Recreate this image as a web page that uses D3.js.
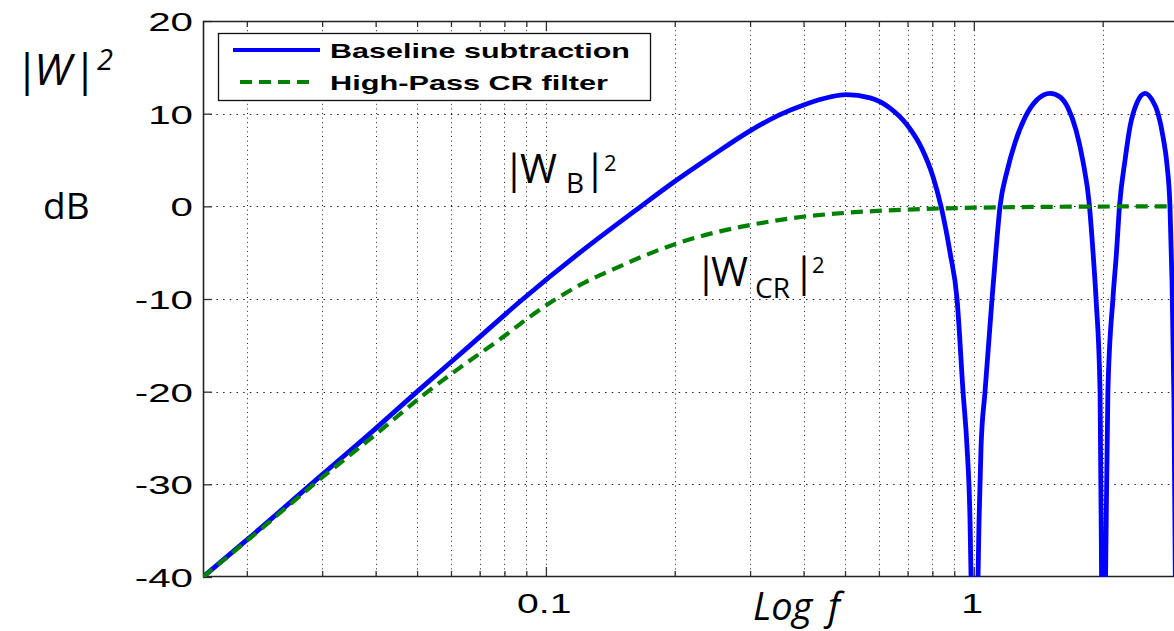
<!DOCTYPE html>
<html>
<head>
<meta charset="utf-8">
<script src="https://cdn.jsdelivr.net/npm/d3@7"></script>
<style>
  html, body { margin: 0; padding: 0; background: #fff; }
  svg { display: block; }
</style>
</head>
<body>
<svg id="chart" width="1174" height="631"></svg>
<script>
// Frequency response of baseline subtraction vs. a high-pass CR filter (dB, log frequency)
const blueFreq = [0.0158, 0.0200, 0.0301, 0.0395, 0.0500, 0.0665, 0.0884, 0.1200, 0.1668, 0.2002,
  0.2416, 0.3013, 0.3524, 0.4031, 0.4611, 0.5027, 0.5720, 0.6369, 0.6979, 0.7566,
  0.8028, 0.8382, 0.8799, 0.9136, 0.9436, 0.9641, 0.9798, 0.9851, 1.0, 1.0229,
  1.0284, 1.0395, 1.0621, 1.1028, 1.1269, 1.1514, 1.1958, 1.2487, 1.3175, 1.4051,
  1.5071, 1.5906, 1.6606, 1.7337, 1.7999, 1.8588, 1.8995, 1.9304, 1.9723, 1.9883,
  2.0, 2.0318, 2.0573, 2.1135, 2.1545, 2.1897, 2.2562, 2.3174, 2.4067, 2.5125,
  2.6090, 2.6949, 2.7680, 2.8272, 2.8732, 2.9045, 2.9354, 2.98];
const blueDb = [-40, -36.0, -28.9, -24.2, -20, -15.0, -10, -5.0, 0, 2.7,
  5.3, 8.2, 9.9, 11.0, 11.8, 12.05, 11.7, 10.6, 8.8, 6.2,
  3.2, 0, -5, -10, -20, -26, -34, -40, -60, -40,
  -34, -26, -20, -10, -4.7, 0, 3.8, 6.9, 9.6, 11.5,
  12.2, 11.8, 10.6, 8.2, 4.8, 0.5, -5, -10, -20, -40,
  -60, -40, -20, -10, -5, 0, 5, 8.6, 11.2, 12.2,
  11.5, 10, 7.5, 4.5, 0, -8, -21, -60];

const greenFreq = [0.0158, 0.0200, 0.0301, 0.0403, 0.0516, 0.0630, 0.0794, 0.0918, 0.1056, 0.1234,
  0.1435, 0.1704, 0.2025, 0.2551, 0.3013, 0.4031, 0.5027, 0.6979, 1.0, 1.507, 3.0];
const greenDb = [-40, -36.1, -29.2, -24.5, -20.4, -17.4, -14.1, -11.9, -10.0, -8.2,
  -6.8, -5.3, -4.0, -2.7, -2.0, -1.1, -0.7, -0.35, -0.15, -0.05, 0];

const seriesNames = ["Baseline subtraction", "High-Pass CR filter"];
const yTicks = [-40, -30, -20, -10, 0, 10, 20];
const xGridTicks = [0.02, 0.03, 0.04, 0.05, 0.06, 0.07, 0.08, 0.09, 0.1,
  0.2, 0.3, 0.4, 0.5, 0.6, 0.7, 0.8, 0.9, 1, 2, 3];
const xMajorTicks = [0.1, 1];
const xTickLabels = ["0.1", "1"];

const svg = d3.select("#chart");
const pL = 203, pR = 1178, pT = 21, pB = 577;

const x = d3.scaleLog().domain([0.0158, 3]).range([pL, pR]);
const y = d3.scaleLinear().domain([-40, 20]).range([pB, pT]);

svg.append("rect").attr("width", 1174).attr("height", 631).attr("fill", "#fff");

// dotted grid
const grid = svg.append("g").attr("stroke", "#222").attr("stroke-width", 1).attr("fill", "none");
grid.selectAll(".vg").data(xGridTicks).join("line")
  .attr("x1", d => Math.round(x(d)) + 0.5).attr("x2", d => Math.round(x(d)) + 0.5)
  .attr("y1", pT).attr("y2", pB)
  .attr("stroke-dasharray", "1,3.6");
grid.selectAll(".hg").data(yTicks.filter(d => d > -40 && d < 20)).join("line")
  .attr("x1", pL).attr("x2", pR)
  .attr("y1", d => Math.round(y(d)) + 0.5).attr("y2", d => Math.round(y(d)) + 0.5)
  .attr("stroke-dasharray", "1.5,5.2");

// axes (ticks point inward)
const yAxis = svg.append("g").attr("transform", `translate(${pL},0)`)
  .call(d3.axisLeft(y).tickValues(yTicks).tickSize(-9).tickPadding(0).tickFormat(d => String(d)));
const xAxis = svg.append("g").attr("transform", `translate(0,${pB})`)
  .call(d3.axisBottom(x).tickValues(xGridTicks).tickSize(-6).tickFormat(d => {
    const i = xMajorTicks.indexOf(d);
    return i >= 0 ? xTickLabels[i] : "";
  }));
const xTop = svg.append("g").attr("transform", `translate(0,${pT})`)
  .call(d3.axisTop(x).tickValues(xGridTicks).tickSize(-6).tickFormat(""));

[yAxis, xAxis, xTop].forEach(g => {
  g.select(".domain").remove();
  g.selectAll(".tick line").attr("stroke", "#333").attr("stroke-width", 1.3);
});
xAxis.selectAll(".tick line").attr("y2", d => xMajorTicks.includes(d) ? -10 : -6);
xTop.selectAll(".tick line").attr("y2", d => xMajorTicks.includes(d) ? 10 : 6);

yAxis.selectAll(".tick text")
  .attr("font-family", "'Liberation Sans', Arial, sans-serif")
  .attr("font-size", 26).attr("fill", "#000")
  .attr("x", -10 / 1.55).attr("dy", "0.36em")
  .attr("transform", "scale(1.55,1)");
xAxis.selectAll(".tick text")
  .attr("font-family", "'Liberation Sans', Arial, sans-serif")
  .attr("font-size", 27).attr("fill", "#000")
  .attr("y", 36).attr("dy", 0).attr("x", -1.5)
  .attr("transform", "scale(1.45,1)");

// frame
svg.append("path")
  .attr("d", `M${pR},${pT + 0.5}H${pL + 0.5}V${pB - 0.5}H${pR}`)
  .attr("fill", "none").attr("stroke", "#222").attr("stroke-width", 1.6);

// curves
svg.append("clipPath").attr("id", "plotclip")
  .append("rect").attr("x", pL).attr("y", pT).attr("width", pR - pL).attr("height", pB - pT);

const line = d3.line().x(d => x(d[0])).y(d => y(d[1])).curve(d3.curveMonotoneX);
const plot = svg.append("g").attr("clip-path", "url(#plotclip)");

plot.append("path")
  .datum(blueFreq.map((f, i) => [f, blueDb[i]]))
  .attr("d", line).attr("fill", "none")
  .attr("stroke", "#0000ff").attr("stroke-width", 4.8).attr("stroke-linejoin", "round");

plot.append("path")
  .datum(greenFreq.map((f, i) => [f, greenDb[i]]))
  .attr("d", line).attr("fill", "none")
  .attr("stroke", "#008000").attr("stroke-width", 4.2)
  .attr("stroke-dasharray", "12,7");

// legend
const lg = svg.append("g");
lg.append("rect").attr("x", 218.5).attr("y", 33.5).attr("width", 432).attr("height", 67)
  .attr("fill", "#fff").attr("stroke", "#111").attr("stroke-width", 1.3);
lg.append("line").attr("x1", 233).attr("x2", 320).attr("y1", 50).attr("y2", 50)
  .attr("stroke", "#0000ff").attr("stroke-width", 4.2);
lg.append("line").attr("x1", 240).attr("x2", 316).attr("y1", 82).attr("y2", 82)
  .attr("stroke", "#008000").attr("stroke-width", 4.2).attr("stroke-dasharray", "12,7");
const legendText = [{ t: seriesNames[0], yb: 58, w: 300 }, { t: seriesNames[1], yb: 90, w: 278 }];
lg.selectAll(".lt").data(legendText).join("text")
  .attr("x", 330).attr("y", d => d.yb)
  .attr("font-family", "'Liberation Sans', Arial, sans-serif")
  .attr("font-weight", "bold").attr("font-size", 21)
  .attr("textLength", d => d.w).attr("lengthAdjust", "spacingAndGlyphs")
  .text(d => d.t);

// axis titles and curve annotations
const ann = "'Open Sans', 'Noto Sans', sans-serif";
const wt = svg.append("text").attr("font-family", ann).attr("font-style", "italic").attr("fill", "#000");
wt.append("tspan").attr("x", 14).attr("y", 85).attr("font-size", 44).text("|");
wt.append("tspan").attr("x", 34).attr("y", 85).attr("font-size", 44).text("W");
wt.append("tspan").attr("x", 72).attr("y", 85).attr("font-size", 44).text("|");
wt.append("tspan").attr("x", 97).attr("y", 70).attr("font-size", 29).text("2");

svg.append("text").attr("x", 43).attr("y", 219).attr("font-family", ann)
  .attr("font-size", 37).text("dB");

const wb = svg.append("text").attr("font-family", ann).attr("fill", "#000");
wb.append("tspan").attr("x", 503).attr("y", 183).attr("font-size", 40).text("|");
wb.append("tspan").attr("x", 520).attr("y", 183).attr("font-size", 40).text("W");
wb.append("tspan").attr("x", 566).attr("y", 193).attr("font-size", 28).text("B");
wb.append("tspan").attr("x", 584).attr("y", 183).attr("font-size", 40).text("|");
wb.append("tspan").attr("x", 604).attr("y", 171).attr("font-size", 22).text("2");

const wc = svg.append("text").attr("font-family", ann).attr("fill", "#000");
wc.append("tspan").attr("x", 695).attr("y", 286).attr("font-size", 40).text("|");
wc.append("tspan").attr("x", 711).attr("y", 286).attr("font-size", 40).text("W");
wc.append("tspan").attr("x", 755).attr("y", 298).attr("font-size", 28).text("CR");
wc.append("tspan").attr("x", 793).attr("y", 286).attr("font-size", 40).text("|");
wc.append("tspan").attr("x", 812).attr("y", 273).attr("font-size", 22).text("2");

const lf = svg.append("text").attr("font-family", ann).attr("font-style", "italic").attr("font-size", 38);
lf.append("tspan").attr("x", 753).attr("y", 620).text("Log");
lf.append("tspan").attr("x", 828).attr("y", 620).text("f");
</script>
</body>
</html>
